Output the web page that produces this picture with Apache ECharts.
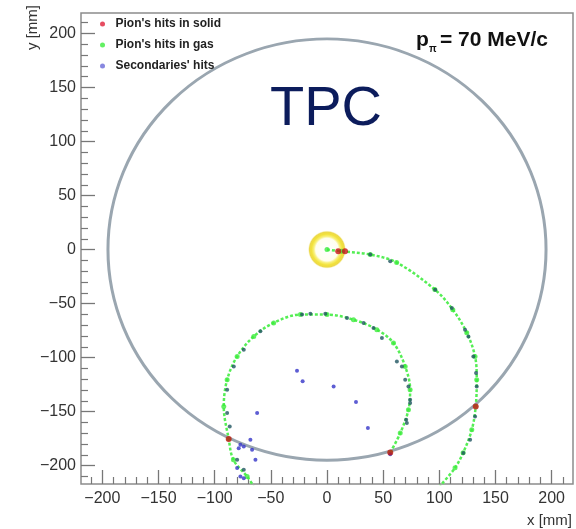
<!DOCTYPE html>
<html>
<head>
<meta charset="utf-8">
<script src="https://cdn.jsdelivr.net/npm/echarts@6/dist/echarts.min.js"></script>
<style>html,body{margin:0;padding:0;background:#fff;}#c{width:576px;height:529px;}</style>
</head>
<body>
<div id="c"></div>
<script>
// ---- axis ticks ----
const xMajorTicks = [-200, -150, -100, -50, 0, 50, 100, 150, 200];
const yMajorTicks = [-200, -150, -100, -50, 0, 50, 100, 150, 200];
const minorTicks = [-210, -190, -180, -170, -160, -140, -130, -120, -110, -90, -80, -70, -60, -40, -30, -20, -10,
                    10, 20, 30, 40, 60, 70, 80, 90, 110, 120, 130, 140, 160, 170, 180, 190, 210];

// ---- detector geometry [x, y, radius] ----
const tpcWall = [[0, 0, 195]];
const target = [[0, 0, 15, 10]];

// ---- pion track in gas (outer arc, then inner loop) ----
const trackOuter = [[0, 0], [13, -1.6], [38.5, -4.6], [62, -12], [96, -37], [112, -55.6], [124.4, -76.9],
  [131.8, -98.9], [133.3, -120.5], [132.4, -145.2], [128.9, -166.8], [121.2, -188.1], [114, -202], [100.7, -218.7]];
const trackInner = [[56.3, -187.9], [65.2, -169.9], [72.5, -148.3], [74, -129.7], [69.6, -108.2], [59.2, -86.5],
  [44.4, -74.1], [23.6, -64.9], [0, -60.2], [-23.7, -60.2], [-47.5, -67.9], [-65.2, -80.4], [-80, -98.9],
  [-88.9, -120.5], [-91.9, -145.2], [-87.5, -175.4], [-83.3, -194.6], [-71.1, -210.1], [-65.5, -218.7]];

// dark hits overlapping the track
const darkHits = [[-22.2, -60.2], [-14.8, -59.3], [-1.5, -59.3], [17.8, -63.3], [32.6, -67.9], [41.4, -72.6],
  [48.9, -81.8], [62.2, -103.5], [69.6, -120.5], [74, -139], [70.5, -157.6], [-59.3, -75.7], [-74.1, -92.7],
  [-83, -108.2], [-88.9, -129.7], [-88.9, -151.3], [-86.6, -163.8], [-80, -194.6], [-74.1, -203.9],
  [38.5, -4.6], [56.3, -10.8], [96.3, -37.1], [111.1, -54], [122.9, -74.1], [125.9, -80.4], [130.3, -98.9],
  [132.7, -114.3], [133.3, -126.7], [131.8, -154.5], [127.4, -176.1], [121.4, -188.4],
  [66.7, -108.2], [72.5, -126.7], [74, -142.1], [71.1, -160.6]];

// ---- pion hits in solid ----
const solidHits = [[10, -1.6], [16, -1.6], [132.4, -145.2], [56.3, -187.9], [-87.5, -175.4]];

// ---- secondaries' hits ----
const secondaryHits = [[-26.7, -112.1], [-21.7, -122], [5.9, -126.7], [25.8, -141.1], [36.4, -165.2],
  [-62.2, -151.3], [-77.1, -180.7], [-74.1, -182.3], [-66.7, -185.4], [-68.2, -176.1], [-63.7, -194.6],
  [-78.6, -183.8], [-80, -202.3], [-74.1, -211.6], [-77.1, -210.1], [56.3, -189.5]];

const fmt = v => String(v).replace('-', '\u2212');
const tickColor = '#777';

const chart = echarts.init(document.getElementById('c'), null, {renderer: 'canvas'});
chart.setOption({
  animation: false,
  backgroundColor: '#fff',
  grid: {left: 81, right: 3, top: 13, bottom: 45, show: true, borderColor: '#8c8c8c', borderWidth: 1.5, containLabel: false},
  legend: {
    orient: 'vertical', left: 100, top: 17, padding: 0, itemGap: 7, itemWidth: 16, itemHeight: 5,
    textStyle: {fontFamily: 'Liberation Sans', fontWeight: 'bold', fontSize: 12, color: '#222', lineHeight: 14},
    data: [
      {name: "Pion's hits in solid", icon: 'circle', itemStyle: {color: '#e0203a'}},
      {name: "Pion's hits in gas", icon: 'circle', itemStyle: {color: '#3cec3c'}},
      {name: "Secondaries' hits", icon: 'circle', itemStyle: {color: '#6a6ad8'}}
    ]
  },
  xAxis: [
    {type: 'value', min: -219, max: 219, position: 'bottom',
     axisLine: {show: false, onZero: false}, splitLine: {show: false},
     axisTick: {show: true, inside: true, length: 14, customValues: xMajorTicks, lineStyle: {color: tickColor, width: 1.3}},
     axisLabel: {customValues: xMajorTicks, formatter: fmt, margin: 7, fontFamily: 'Liberation Sans', fontSize: 16, color: '#333'}},
    {type: 'value', min: -219, max: 219, position: 'bottom',
     axisLine: {show: false, onZero: false}, splitLine: {show: false}, axisLabel: {show: false},
     axisTick: {show: true, inside: true, length: 7, customValues: minorTicks, lineStyle: {color: tickColor, width: 1.2}}}
  ],
  yAxis: [
    {type: 'value', min: -217, max: 219, position: 'left',
     axisLine: {show: false, onZero: false}, splitLine: {show: false},
     axisTick: {show: true, inside: true, length: 14, customValues: yMajorTicks, lineStyle: {color: tickColor, width: 1.3}},
     axisLabel: {customValues: yMajorTicks, formatter: fmt, margin: 5, fontFamily: 'Liberation Sans', fontSize: 16, color: '#333'}},
    {type: 'value', min: -217, max: 219, position: 'left',
     axisLine: {show: false, onZero: false}, splitLine: {show: false}, axisLabel: {show: false},
     axisTick: {show: true, inside: true, length: 7, customValues: minorTicks, lineStyle: {color: tickColor, width: 1.2}}}
  ],
  series: [
    {type: 'custom', silent: true, data: tpcWall, z: 1,
     renderItem: (params, api) => {
       const c = api.coord([api.value(0), api.value(1)]);
       const s = api.size([api.value(2), api.value(2)]);
       return {type: 'circle', x: c[0], y: c[1], scaleY: s[1] / s[0],
               shape: {cx: 0, cy: 0, r: s[0]},
               style: {fill: 'none', stroke: '#9aa6b0', lineWidth: 3, strokeNoScale: true}};
     }},
    {type: 'custom', silent: true, data: target, z: 2,
     renderItem: (params, api) => {
       const c = api.coord([api.value(0), api.value(1)]);
       const so = api.size([api.value(2), api.value(2)]);
       return {type: 'circle', shape: {cx: c[0], cy: c[1], r: so[0] + 2},
          style: {fill: {type: 'radial', x: 0.5, y: 0.5, r: 0.5, colorStops: [
            {offset: 0, color: '#ffffff'}, {offset: 0.6, color: '#fffef0'}, {offset: 0.7, color: '#f8f07a'},
            {offset: 0.82, color: '#f2e23a'}, {offset: 0.93, color: '#ecd84a'}, {offset: 1, color: 'rgba(245,235,150,0.2)'}]}}};
     }},
    {type: 'line', silent: true, z: 3, smooth: 0.35, symbol: 'none', connectNulls: false,
     data: trackOuter.concat([[null, null]], trackInner),
     lineStyle: {color: '#55ee55', width: 2.5, type: [3, 2]}},
    {name: "Pion's hits in gas", type: 'scatter', z: 4, symbol: 'circle', symbolSize: 5,
     itemStyle: {color: '#3cec3c'}, data: trackOuter.concat(trackInner)},
    {type: 'scatter', silent: true, z: 5, symbol: 'circle', symbolSize: 4,
     itemStyle: {color: '#1f5560'}, data: darkHits},
    {name: "Secondaries' hits", type: 'scatter', z: 6, symbol: 'circle', symbolSize: 4,
     itemStyle: {color: '#3535c8'}, data: secondaryHits},
    {name: "Pion's hits in solid", type: 'scatter', z: 7, symbol: 'circle', symbolSize: 6,
     itemStyle: {color: '#c81418'}, data: solidHits}
  ],
  graphic: [
    {type: 'text', x: 326, y: 110, z: 10,
     style: {text: 'TPC', fontFamily: 'Liberation Sans', fontSize: 56, fill: '#0c1c5c', align: 'center', verticalAlign: 'middle'}},
    {type: 'text', x: 416, y: 40, z: 10,
     style: {text: 'p', fontFamily: 'Liberation Sans', fontWeight: 'bold', fontSize: 21, fill: '#111', align: 'left', verticalAlign: 'middle'}},
    {type: 'text', x: 429, y: 49, z: 10,
     style: {text: '\u03c0', fontFamily: 'Liberation Sans', fontWeight: 'bold', fontSize: 10, fill: '#111', align: 'left', verticalAlign: 'middle'}},
    {type: 'text', x: 440, y: 40, z: 10,
     style: {text: '= 70 MeV/c', fontFamily: 'Liberation Sans', fontWeight: 'bold', fontSize: 21, fill: '#111', align: 'left', verticalAlign: 'middle'}},
    {type: 'text', x: 572, y: 521, z: 10,
     style: {text: 'x [mm]', fontFamily: 'Liberation Sans', fontSize: 15, fill: '#333', align: 'right', verticalAlign: 'middle'}},
    {type: 'text', x: 33, y: 5, rotation: Math.PI / 2, z: 10,
     style: {text: 'y [mm]', fontFamily: 'Liberation Sans', fontSize: 15, fill: '#333', align: 'right', verticalAlign: 'middle'}}
  ]
});
</script>
</body>
</html>
